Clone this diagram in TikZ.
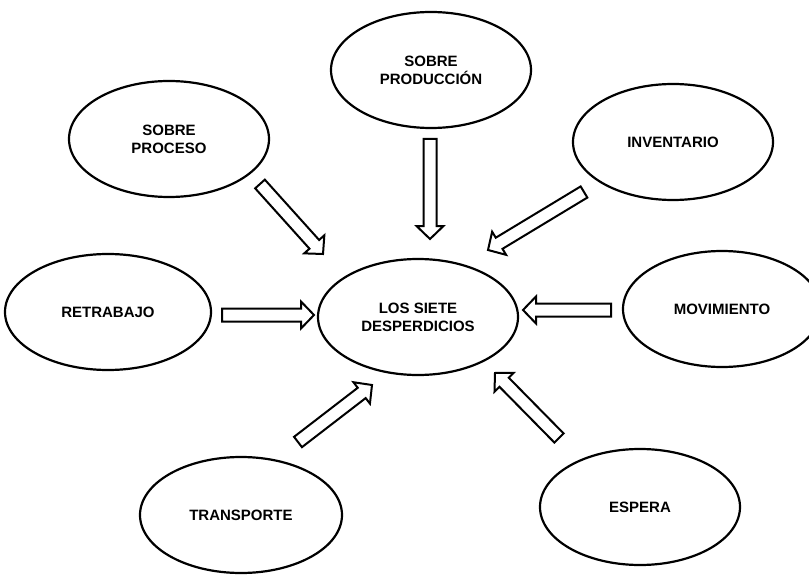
\documentclass[tikz,border=0pt]{standalone}
\usepackage{fontspec}
\setmainfont{Liberation Sans}
\usetikzlibrary{shapes.geometric,calc}

% hollow block arrow between two named coordinates
\newcommand\blockarrow[2]{%
  \draw[arrowbox]
    ($(#1)!6.5pt!90:(#2)$) --
    ($($(#2)!13pt!(#1)$)!6.5pt!-90:(#1)$) --
    ($($(#2)!13pt!(#1)$)!13.5pt!-90:(#1)$) --
    (#2) --
    ($($(#2)!13pt!(#1)$)!13.5pt!90:(#1)$) --
    ($($(#2)!13pt!(#1)$)!6.5pt!90:(#1)$) --
    ($(#1)!6.5pt!-90:(#2)$) -- cycle;}

\tikzset{
  waste/.style={ellipse, draw=black, line width=2.2pt, fill=white,
    minimum width=200pt, minimum height=116pt, inner sep=0pt,
    align=center, font=\bfseries\fontsize{15}{18}\selectfont},
  arrowbox/.style={draw=black, fill=white, line width=2pt, line join=miter},
}

\begin{document}
\begin{tikzpicture}[x=1pt, y=-1pt]
  \clip (0,0) rectangle (809,575);
  \fill[white] (0,0) rectangle (809,575);

  % the seven wastes around the central concept
  \node[waste] (centro)  at (418,317) {LOS SIETE\\DESPERDICIOS};
  \node[waste] (prod)    at (431,70)  {SOBRE\\PRODUCCIÓN};
  \node[waste] (proc)    at (169,139) {SOBRE\\PROCESO};
  \node[waste] (inv)     at (673,142) {INVENTARIO};
  \node[waste, minimum width=206pt] (retr) at (108,312) {RETRABAJO};
  \node[waste, minimum width=198pt] (mov)  at (722,309) {MOVIMIENTO};
  \node[waste, minimum width=202pt] (trans) at (241,515) {TRANSPORTE};
  \node[waste] (esp)     at (640,507) {ESPERA};

  % arrow ends
  \coordinate (procA)  at (260,184);  \coordinate (procB)  at (323,254);
  \coordinate (prodA)  at (430,139);  \coordinate (prodB)  at (430,239);
  \coordinate (invA)   at (584,192);  \coordinate (invB)   at (488,250);
  \coordinate (retrA)  at (222,315);  \coordinate (retrB)  at (314,315);
  \coordinate (movA)   at (611,310);  \coordinate (movB)   at (523,310);
  \coordinate (transA) at (298,442);  \coordinate (transB) at (372,385);
  \coordinate (espA)   at (559,438);  \coordinate (espB)   at (495,373);

  \blockarrow{procA}{procB}
  \blockarrow{prodA}{prodB}
  \blockarrow{invA}{invB}
  \blockarrow{retrA}{retrB}
  \blockarrow{movA}{movB}
  \blockarrow{transA}{transB}
  \blockarrow{espA}{espB}
\end{tikzpicture}
\end{document}
